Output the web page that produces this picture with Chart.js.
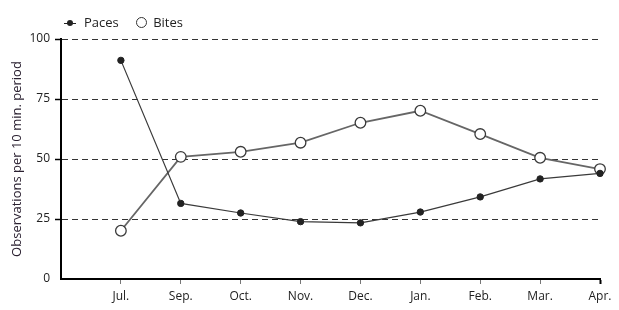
<!DOCTYPE html>
<html>
<head>
<meta charset="utf-8">
<script src="https://cdn.jsdelivr.net/npm/chart.js@4.4.1/dist/chart.umd.min.js"></script>
<style>
  body { margin: 0; background: #fff; }
  #wrap { position: relative; width: 619px; height: 310px; }
  #legend { position: absolute; left: 64px; top: 13px; font: 13px "Open Sans", sans-serif; color: #222; }
  #legend span.item { display: inline-block; margin-right: 14px; }
  .paces-mark { display: inline-block; position: relative; width: 12px; height: 10px; margin-right: 8px; vertical-align: -1px; }
  .paces-mark:before { content: ""; position: absolute; left: 0; right: 0; top: 5px; border-top: 1px solid #222; }
  .paces-mark:after { content: ""; position: absolute; left: 3px; top: 2px; width: 6px; height: 6px; border-radius: 50%; background: #222; }
  .bites-mark { display: inline-block; width: 9px; height: 9px; border: 1.3px solid #333; border-radius: 50%; margin-right: 6px; vertical-align: -1px; }
</style>
</head>
<body>
<div id="wrap">
  <canvas id="myChart" width="619" height="310"></canvas>
  <div id="legend">
    <span class="item"><span class="paces-mark"></span>Paces</span>
    <span class="item"><span class="bites-mark"></span>Bites</span>
  </div>
</div>
<script>
var months = ['Jul.', 'Sep.', 'Oct.', 'Nov.', 'Dec.', 'Jan.', 'Feb.', 'Mar.', 'Apr.'];
var paces = [91.1, 31.5, 27.5, 23.9, 23.4, 27.9, 34.2, 41.7, 44.0];
var bites = [20.1, 50.9, 53.0, 56.8, 65.1, 70.1, 60.4, 50.5, 45.8];
var yticks = [0, 25, 50, 75, 100];

// months sit at 1..9, axis starts one step before Jul.
function toPoints(arr) {
    var out = [];
    for (var i = 0; i < arr.length; i++) {
        out.push({x: i + 1, y: arr[i]});
    }
    return out;
}

var font = {family: 'Open Sans', size: 12};

var ctx = document.getElementById('myChart').getContext('2d');
var chart = new Chart(ctx, {
    type: 'line',
    data: {
        datasets: [{
            label: 'Paces',
            data: toPoints(paces),
            clip: false,
            borderColor: '#3a3a3a',
            borderWidth: 1.2,
            pointRadius: 3.2,
            pointBackgroundColor: '#222',
            pointBorderColor: '#222',
            pointBorderWidth: 1
        }, {
            label: 'Bites',
            data: toPoints(bites),
            clip: false,
            borderColor: '#666',
            borderWidth: 1.8,
            pointRadius: 5.3,
            pointBackgroundColor: '#fff',
            pointBorderColor: '#3a3a3a',
            pointBorderWidth: 1.3
        }]
    },
    options: {
        responsive: false,
        animation: false,
        layout: {padding: {top: 39, right: 19, left: 0, bottom: 0}},
        plugins: {legend: {display: false}, tooltip: {enabled: false}},
        scales: {
            x: {
                type: 'linear',
                min: 0,
                max: months.length,
                afterFit: function (scale) { scale.height = 31; },
                afterBuildTicks: function (scale) {
                    scale.ticks = [];
                    for (var i = 0; i <= months.length; i++) scale.ticks.push({value: i});
                },
                ticks: {
                    autoSkip: false,
                    maxRotation: 0,
                    padding: 5,
                    color: '#222',
                    font: font,
                    callback: function (v) { return v === 0 ? '' : months[v - 1]; }
                },
                grid: {
                    drawOnChartArea: false,
                    tickLength: 5,
                    tickColor: function (c) {
                        if (c.tick.value === 0) return 'rgba(0,0,0,0)';
                        return c.tick.value === months.length ? '#000' : '#777';
                    },
                    tickWidth: function (c) { return c.tick.value === months.length ? 2 : 1; }
                },
                border: {color: '#000', width: 2}
            },
            y: {
                min: 0,
                max: 100,
                afterFit: function (scale) { scale.width = 61; },
                afterBuildTicks: function (scale) {
                    scale.ticks = yticks.map(function (v) { return {value: v}; });
                },
                ticks: {padding: 5, color: '#222', font: font},
                title: {
                    display: true,
                    text: 'Observations per 10 min. period',
                    color: '#2a2030',
                    font: {family: 'Open Sans', size: 13},
                    padding: {top: 9, bottom: 0}
                },
                grid: {
                    color: function (c) { return c.tick.value === 0 ? 'rgba(0,0,0,0)' : '#333'; },
                    lineWidth: 1,
                    tickLength: 6,
                    tickColor: function (c) { return c.tick.value === 0 ? 'rgba(0,0,0,0)' : '#000'; },
                    tickBorderDash: [],
                    tickWidth: 1.5
                },
                border: {color: '#000', width: 2, dash: [6, 4]}
            }
        }
    }
});
</script>
</body>
</html>
